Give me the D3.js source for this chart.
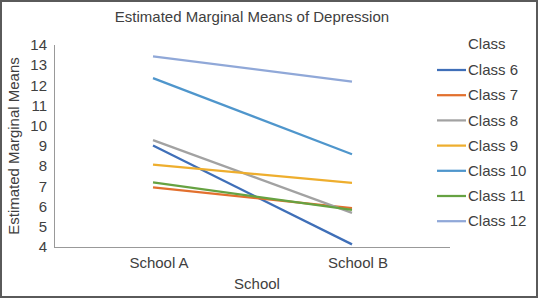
<!DOCTYPE html>
<html><head><meta charset="utf-8">
<script src="https://cdn.jsdelivr.net/npm/d3@7"></script>
<style>body{margin:0;background:#fff}svg{display:block}</style>
</head><body><svg id="c" width="538" height="298"></svg>
<script>
const schools = ["School A", "School B"];
const classNames = ["Class 6","Class 7","Class 8","Class 9","Class 10","Class 11","Class 12"];
const classColors = ["#3f6fb8","#e2702e","#a2a2a2","#eeae2e","#4f96cc","#66a242","#90a8d8"];
const valuesA = [9.02, 6.95, 9.29, 8.08, 12.36, 7.2, 13.44];
const valuesB = [4.13, 5.93, 5.69, 7.17, 8.59, 5.84, 12.19];
const yTicks = [4,5,6,7,8,9,10,11,12,13,14];

const svg = d3.select("#c");
const font = "Liberation Sans, Arial, sans-serif";
const textColor = "#404040";
const fs = 15;

svg.append("rect").attr("x",1).attr("y",1).attr("width",536).attr("height",296)
  .attr("fill","#fff").attr("stroke","#5a5a5a").attr("stroke-width",2);

const x = d3.scalePoint().domain(schools).range([153, 352]);
const y = d3.scaleLinear().domain([4,14]).range([247, 45]);

svg.append("line").attr("x1",54.5).attr("x2",54.5).attr("y1",y(14)).attr("y2",y(4)+0.5)
  .attr("stroke","#999").attr("stroke-width",1);
svg.append("line").attr("x1",54).attr("x2",450).attr("y1",y(4)+0.5).attr("y2",y(4)+0.5)
  .attr("stroke","#999").attr("stroke-width",1);

svg.append("g").selectAll("text").data(yTicks).join("text")
  .attr("x",47).attr("y",d=>y(d)).attr("dy","0.35em").attr("text-anchor","end")
  .attr("font-family",font).attr("font-size",fs).attr("fill",textColor).text(d=>d);

svg.append("g").selectAll("text").data(schools).join("text")
  .attr("x",d=>x(d)+6).attr("y",268).attr("text-anchor","middle")
  .attr("font-family",font).attr("font-size",fs).attr("fill",textColor).text(d=>d);

const series = classNames.map((c,i)=>({name:c,color:classColors[i],vals:[valuesA[i],valuesB[i]]}));
const line = d3.line().x((d,i)=>x(schools[i])).y(d=>y(d));
svg.append("g").selectAll("path").data(series).join("path")
  .attr("d",d=>line(d.vals)).attr("fill","none").attr("stroke",d=>d.color)
  .attr("stroke-width",2.25).attr("stroke-linecap","butt");

svg.append("text").attr("x",252).attr("y",22).attr("text-anchor","middle")
  .attr("font-family",font).attr("font-size",fs).attr("fill",textColor)
  .text("Estimated Marginal Means of Depression");
svg.append("text").attr("x",257).attr("y",289).attr("text-anchor","middle")
  .attr("font-family",font).attr("font-size",fs).attr("fill",textColor).text("School");
svg.append("text").attr("transform","translate(19,146) rotate(-90)").attr("text-anchor","middle")
  .attr("font-family",font).attr("font-size",fs).attr("fill",textColor).text("Estimated Marginal Means");

const lg = svg.append("g");
lg.append("text").attr("x",468).attr("y",49).attr("font-family",font).attr("font-size",fs)
  .attr("fill",textColor).text("Class");
const items = lg.selectAll("g").data(series).join("g")
  .attr("transform",(d,i)=>`translate(0,${70 + i*25.2})`);
items.append("line").attr("x1",437).attr("x2",466).attr("y1",0).attr("y2",0)
  .attr("stroke",d=>d.color).attr("stroke-width",2.25);
items.append("text").attr("x",468).attr("y",0).attr("dy","0.35em")
  .attr("font-family",font).attr("font-size",fs).attr("fill",textColor).text(d=>d.name);
</script></body></html>
